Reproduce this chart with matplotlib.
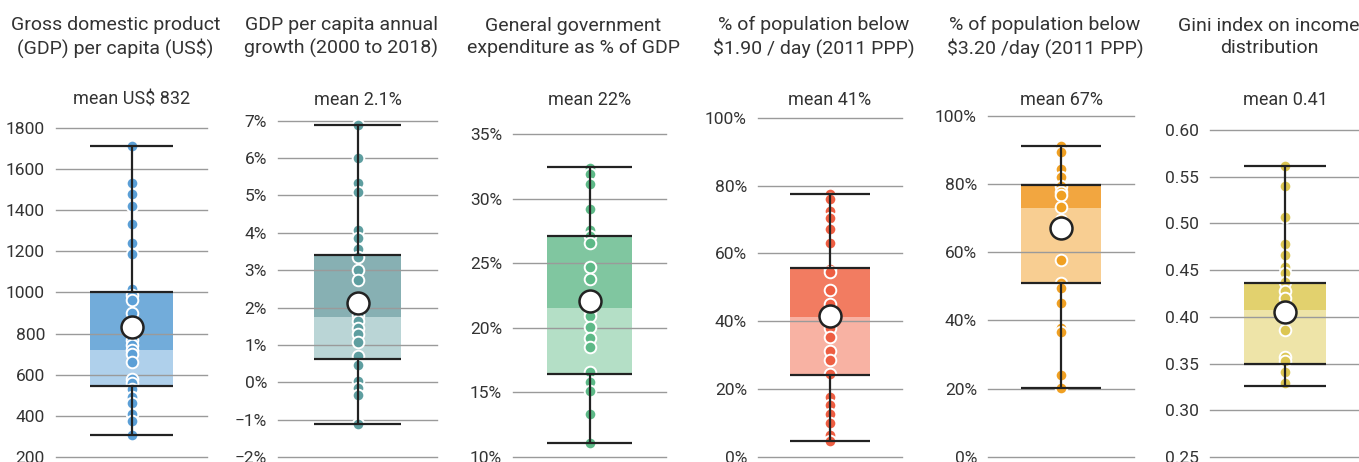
import numpy as np
import matplotlib
matplotlib.use("Agg")
import matplotlib.pyplot as plt

plt.rcParams['font.family'] = ['Roboto', 'DejaVu Sans']

# -----------------------------
# DATA
# -----------------------------
titles = [
    "Gross domestic product\n(GDP) per capita (US$)",
    "GDP per capita annual\ngrowth (2000 to 2018)",
    "General government\nexpenditure as % of GDP",
    "% of population below\n$1.90 / day (2011 PPP)",
    "% of population below\n$3.20 /day (2011 PPP)",
    "Gini index on income\ndistribution",
]
mean_labels = ["mean US$ 832", "mean 2.1%", "mean 22%", "mean 41%", "mean 67%", "mean 0.41"]

gdp_points = [1712, 1530, 1478, 1418, 1330, 1240, 1188, 1015, 985, 965, 900, 770,
              745, 720, 700, 660, 580, 560, 530, 490, 460, 410, 375, 307]
growth_points = [6.88, 6.0, 5.33, 5.1, 4.08, 3.85, 3.57, 3.35, 3.0, 2.75, 1.8, 1.63,
                 1.45, 1.3, 1.07, 0.7, 0.46, 0.03, -0.15, -0.34, -1.12]
expend_points = [32.4, 31.9, 31.1, 29.2, 27.6, 27.1, 26.6, 24.7, 23.8, 21.2, 20.9,
                 20.1, 19.2, 18.5, 16.6, 15.8, 15.1, 13.3, 11.1]
pov190_points = [77.5, 76, 72.4, 70.4, 67.2, 63.1, 55.5, 54.5, 49.2, 45.1, 38, 35.4,
                 31.2, 28.5, 24.6, 17.8, 15.3, 12.6, 10.1, 6.4, 4.8]
pov320_points = [91, 89.3, 84.5, 82.1, 79.5, 77.5, 76.8, 73.3, 69.5, 57.7, 51, 49.5,
                 45.1, 37.8, 36.5, 24, 20.3]
gini_points = [0.562, 0.540, 0.507, 0.478, 0.466, 0.453, 0.447, 0.437, 0.428, 0.42,
               0.386, 0.3575, 0.353, 0.341, 0.329]

# whisker low, q1, median, q3, whisker high, mean
gdp_stats = [307, 545, 722, 1000, 1712, 832]
growth_stats = [-1.12, 0.62, 1.76, 3.40, 6.88, 2.12]
expend_stats = [11.1, 16.45, 21.5, 27.07, 32.42, 22.1]
pov190_stats = [4.7, 24.2, 41.2, 55.6, 77.6, 41.5]
pov320_stats = [20.3, 51.0, 73.0, 79.8, 91.1, 67.0]
gini_stats = [0.326, 0.35, 0.4075, 0.4367, 0.5618, 0.4057]

gdp_ticks = [200, 400, 600, 800, 1000, 1200, 1400, 1600, 1800]
growth_ticks = [-2, -1, 0, 1, 2, 3, 4, 5, 6, 7]
expend_ticks = [10, 15, 20, 25, 30, 35]
pov_ticks = [0, 20, 40, 60, 80, 100]
gini_ticks = [0.25, 0.30, 0.35, 0.40, 0.45, 0.50, 0.55, 0.60]

gdp_labels = [str(t) for t in gdp_ticks]
growth_labels = [f"{t}%".replace("-", "\u2212") for t in growth_ticks]
expend_labels = [f"{t}%" for t in expend_ticks]
pov_labels = [f"{t}%" for t in pov_ticks]
gini_labels = [f"{t:.2f}" for t in gini_ticks]

points = [gdp_points, growth_points, expend_points, pov190_points, pov320_points, gini_points]
stats = [gdp_stats, growth_stats, expend_stats, pov190_stats, pov320_stats, gini_stats]
ticks = [gdp_ticks, growth_ticks, expend_ticks, pov_ticks, pov_ticks, gini_ticks]
tick_labels = [gdp_labels, growth_labels, expend_labels, pov_labels, pov_labels, gini_labels]

# dark (median->q3), light (q1->median), dots
colors = [
    ("#72ACDA", "#AFD0EB", "#5B9FD6"),
    ("#87B0B3", "#BAD5D6", "#5E9EA0"),
    ("#80C6A0", "#B4DFC6", "#5DB987"),
    ("#F27C61", "#F8B2A3", "#EE5E42"),
    ("#F2A640", "#F8CE92", "#F0A022"),
    ("#E2D16E", "#EEE4A8", "#DCC653"),
]

# -----------------------------
# LAYOUT (pixels)
# -----------------------------
W, H = 1359, 462
# left, right, top gridline y
boxes_px = [(56, 207, 127.7), (278, 437, 120.7), (513, 666, 134),
            (758, 902, 117.7), (988, 1134, 115.7), (1210, 1360, 130)]
bottom_px = 457

fig = plt.figure(figsize=(W / 100, H / 100), dpi=100)

for i in range(6):
    l, r, t = boxes_px[i]
    ax = fig.add_axes([l / W, (H - bottom_px) / H, (r - l) / W, (bottom_px - t) / H])
    wlo, q1, med, q3, whi, mean = stats[i]
    dark, light, dot = colors[i]

    ax.set_xlim(-1, 1)
    ax.set_ylim(ticks[i][0], ticks[i][-1])
    ax.set_yticks(ticks[i])
    ax.set_yticklabels(tick_labels[i])
    ax.set_xticks([])
    for s in ax.spines.values():
        s.set_visible(False)
    ax.tick_params(axis='y', length=0, pad=8, labelsize=12.5, labelcolor="#333333")
    for tk in ticks[i]:
        ax.axhline(tk, color="#9a9a9a", lw=1.0, zorder=2, clip_on=False)

    # box halves
    bw = 1.1
    ax.bar(0, med - q1, bottom=q1, width=bw, color=light, zorder=1)
    ax.bar(0, q3 - med, bottom=med, width=bw, color=dark, zorder=1)

    # points
    ax.scatter(np.zeros(len(points[i])), points[i], s=70, color=dot,
               edgecolor="white", linewidth=1.4, zorder=3, clip_on=False)

    # whiskers and box edges
    ax.vlines(0, q3, whi, color="#222222", lw=1.6, zorder=4)
    ax.vlines(0, wlo, q1, color="#222222", lw=1.6, zorder=4)
    ax.hlines([wlo, q1, q3, whi], -bw / 2, bw / 2, color="#222222", lw=1.6, zorder=4)

    # mean
    ax.scatter([0], [mean], s=250, color="white", edgecolor="#222222",
               linewidth=1.8, zorder=5, clip_on=False)

    cx = (l + r) / 2
    fig.text(cx / W, (H - 100) / H, mean_labels[i], ha="center", va="center",
             fontsize=13, color="#333333")
    fig.text((cx - 16) / W, (H - 37) / H, titles[i], ha="center", va="center",
             fontsize=14, color="#333333", linespacing=1.32)

fig.savefig("out.png", dpi=100)
